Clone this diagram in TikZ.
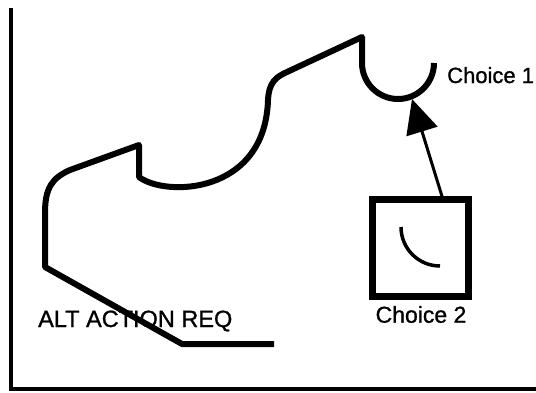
\documentclass[tikz,border=0pt]{standalone}
\usepackage{fontspec}
\setmainfont[FakeBold=1]{Liberation Sans}
\usetikzlibrary{arrows.meta}

\begin{document}
\begin{tikzpicture}[x=1pt, y=1pt, yscale=-1,
        outline/.style={line width=6pt, line join=round},
        tag/.style={inner sep=0pt, font=\fontsize{23}{23}\selectfont}]
            \useasboundingbox (0,0) rectangle (536,392);
            % frame
            \draw[line width=4pt] (11,8) -- (11,389) -- (536,389);
            % outline with the cup
            \draw[outline] (274,344) -- (182,344) -- (45,267) -- (45,213)
                .. controls (45,188) and (52,178) .. (70,170) -- (139,145) -- (139,177)
                .. controls (165,197) and (265,195) .. (268,100)
                .. controls (269,82) and (276,77) .. (287,72) -- (362,37) -- (362,63)
                arc[start angle=180, end angle=0, radius=36];
            \coordinate (cup) at (412,99);
            % second choice
            \node[draw, line width=6.5pt, minimum width=96pt, minimum height=97pt, inner sep=0pt] (box2) at (420.5,248) {};
            \draw[line width=3.5pt] (401,227) arc[start angle=180, end angle=90, radius=39];
            \draw[line width=3pt, -{Triangle[length=34pt, width=32pt]}] ([xshift=21.5pt]box2.north) -- (cup);
            % texts
            \node[tag, anchor=base west, font=\fontsize{22}{22}\selectfont] (choice1) at (447,83) {Choice 1};
            \node[tag, anchor=base] (choice2) at (421,322.7) {Choice 2};
            \node[tag, anchor=base west, font=\fontsize{23.5}{23.5}\selectfont] (altreq) at (38,327) {ALT ACTION REQ};
        \end{tikzpicture}
\end{document}
